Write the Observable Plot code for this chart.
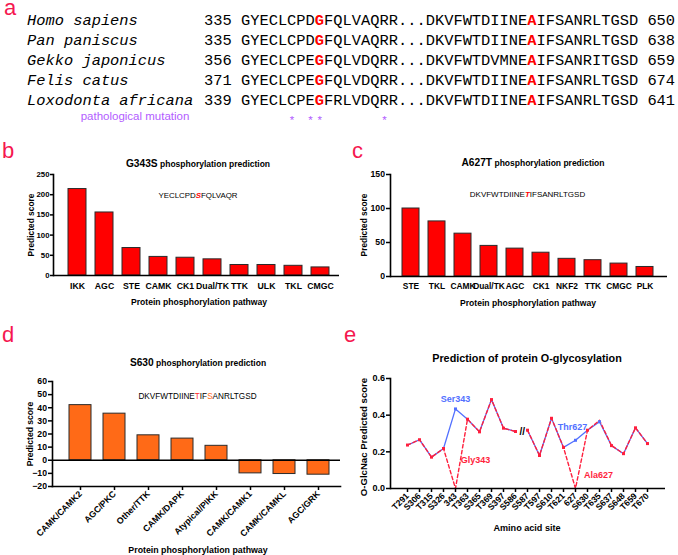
<!DOCTYPE html>
<html><head><meta charset="utf-8">
<script src="https://cdn.jsdelivr.net/npm/d3@7"></script>
<script src="https://cdn.jsdelivr.net/npm/@observablehq/plot@0.6"></script>
<style>
body{margin:0;background:#fff;}
#fig{position:relative;width:678px;height:555px;overflow:hidden;font-family:"Liberation Sans",Arial,sans-serif;}
#fig > div.p{position:absolute;}
#overlay{position:absolute;left:0;top:0;}
</style></head><body><div id="fig"></div>
<script>
// ---------- Panel a: alignment ----------
const species = ["Homo sapiens", "Pan paniscus", "Gekko japonicus", "Felis catus", "Loxodonta africana"];
const startPos = [335, 335, 356, 371, 339];
const seqHead = ["GYECLCPD", "GYECLCPD", "GYECLCPE", "GYECLCPE", "GYECLCPE"];
const res343 = ["G", "G", "G", "G", "G"];
const seqMid = ["FQLVAQRR...DKVFWTDIINE", "FQLVAQRR...DKVFWTDIINE", "FQLVDQRR...DKVFWTDVMNE", "FQLVDQRR...DKVFWTDIINE", "FRLVDQRR...DKVFWTDIINE"];
const res627 = ["A", "A", "A", "A", "A"];
const seqTail = ["IFSANRLTGSD", "IFSANRLTGSD", "IFSANRITGSD", "IFSANRLTGSD", "IFSANRLTGSD"];
const endPos = [650, 638, 659, 674, 641];
const starColumns = [9, 11, 12, 19];

// ---------- Panel b ----------
const bPathways = ["IKK", "AGC", "STE", "CAMK", "CK1", "Dual/TK", "TTK", "ULK", "TKL", "CMGC"];
const bScores = [214, 156, 68, 46, 44, 40, 26, 26, 24, 20];
const bTicks = [0, 50, 100, 150, 200, 250];

// ---------- Panel c ----------
const cPathways = ["STE", "TKL", "CAMK", "Dual/TK", "AGC", "CK1", "NKF2", "TTK", "CMGC", "PLK"];
const cScores = [100, 81, 63, 45, 41, 35, 26, 24, 19, 14];
const cTicks = [0, 50, 100, 150];

// ---------- Panel d ----------
const dPathways = ["CAMK/CAMK2", "AGC/PKC", "Other/TTK", "CAMK/DAPK", "Atypical/PIKK", "CAMK/CAMK1", "CAMK/CAMKL", "AGC/GRK"];
const dScores = [42, 35.5, 19, 16.5, 11, -10, -10.5, -11];
const dTicks = [-20, -10, 0, 10, 20, 30, 40, 50, 60];

// ---------- Panel e ----------
const sites = ["T291", "S306", "T315", "S326", "343", "T363", "S365", "T369", "S397", "S586", "S587", "T597", "S610", "T621", "627", "S630", "T635", "S637", "S648", "T659", "T670"];
const wildScores = [0.237, 0.266, 0.171, 0.218, 0.434, 0.378, 0.309, 0.485, 0.329, 0.311, 0.318, 0.180, 0.383, 0.224, 0.263, 0.318, 0.364, 0.234, 0.190, 0.331, 0.245];
const mutScores  = [0.237, 0.266, 0.171, 0.218, 0.000, 0.378, 0.309, 0.485, 0.329, 0.311, 0.318, 0.180, 0.383, 0.224, 0.000, 0.318, 0.372, 0.234, 0.190, 0.331, 0.245];
const breakAfter = "S586";
const breakY = 0.309;
const eTicks = [0, 0.2, 0.4, 0.6];
const annoSites = ["343", "343", "627", "627"];
const annoValues = [0.489, 0.153, 0.333, 0.071];
const annoLabels = ["Ser343", "Gly343", "Thr627", "Ala627"];

// ---------- styles ----------
const FONT = '"Liberation Sans", Arial, sans-serif';
const LABEL = "#f5174f";
const RED = "#ff0000";
const ORANGE = "#ff6a17";
const BLUE = "#5270ff";
const LRED = "#ff1f3d";
const PURPLE = "#b25cff";
const fig = document.getElementById("fig");

function panel(opts, left, top) {
  const el = Plot.plot({
    ...opts,
    style: {fontFamily: FONT, fontWeight: "bold", fontSize: "8.7px", color: "#000", background: "transparent", overflow: "visible"}
  });
  const d = document.createElement("div");
  d.className = "p";
  d.style.left = left + "px";
  d.style.top = top + "px";
  d.appendChild(el);
  fig.appendChild(d);
}

// Panel b
panel({
  width: 340, height: 170, marginTop: 24, marginBottom: 45, marginLeft: 53, marginRight: 1,
  x: {domain: bPathways, range: [62.5, 334.5], paddingInner: 0.34, paddingOuter: 0.17},
  y: {domain: [0, 250]},
  marks: [
    Plot.barY(bScores, {x: bPathways, y: bScores, fill: RED, stroke: "#2b2b2b", strokeWidth: 1}),
    Plot.ruleY([0], {strokeWidth: 1.6}),
    Plot.frame({anchor: "left", strokeWidth: 1.6}),
    Plot.axisY({ticks: bTicks, tickSize: 3, tickPadding: 1, strokeWidth: 1.5, fontSize: 7.8, label: null}),
    Plot.axisX({tickSize: 0, tickPadding: 7, label: null})
  ]
}, 0, 150);

// Panel c
panel({
  width: 338, height: 170, marginTop: 24, marginBottom: 44, marginLeft: 50, marginRight: 11,
  x: {domain: cPathways, range: [54.7, 320.3], paddingInner: 0.36, paddingOuter: 0.18},
  y: {domain: [0, 150]},
  marks: [
    Plot.barY(cScores, {x: cPathways, y: cScores, fill: RED, stroke: "#2b2b2b", strokeWidth: 1}),
    Plot.ruleY([0], {strokeWidth: 1.6}),
    Plot.frame({anchor: "left", strokeWidth: 1.6}),
    Plot.axisY({ticks: cTicks, tickSize: 4, tickPadding: 1.5, strokeWidth: 1.5, label: null}),
    Plot.axisX({tickSize: 0, tickPadding: 7, fontSize: 8.4, label: null})
  ]
}, 340, 150);

// Panel d
panel({
  width: 340, height: 215, marginTop: 41, marginBottom: 69, marginLeft: 52, marginRight: 0,
  x: {domain: dPathways, range: [60.8, 336.2], paddingInner: 0.36, paddingOuter: 0.18},
  y: {domain: [-20, 60]},
  marks: [
    Plot.barY(dScores, {x: dPathways, y: dScores, fill: ORANGE, stroke: "#2b2b2b", strokeWidth: 1}),
    Plot.ruleY([0], {strokeWidth: 1.6}),
    Plot.frame({anchor: "left", strokeWidth: 1.6}),
    Plot.frame({anchor: "bottom", strokeWidth: 1.6}),
    Plot.axisY({ticks: dTicks, tickSize: 4, tickPadding: 1.5, strokeWidth: 1.5, label: null}),
    Plot.axisX({tickSize: 4, tickPadding: 2, strokeWidth: 1.5, tickRotate: -45, fontSize: 8.8, label: null})
  ]
}, 0, 340);

// Panel e
const breakIdx = sites.indexOf(breakAfter);
const segment = sites.map((s, i) => (i <= breakIdx ? "left" : "right"));
const mutated = sites.map((s, i) => wildScores[i] !== mutScores[i]);
function anno(i, color, dx) {
  return Plot.text([annoLabels[i]], {x: [annoSites[i]], y: [annoValues[i]], text: (d) => d, fill: color, dx, fontWeight: "bold", fontSize: 9});
}
panel({
  width: 338, height: 215, marginTop: 38, marginBottom: 67, marginLeft: 50, marginRight: 13,
  x: {type: "point", domain: sites, range: [58, 315], padding: 0},
  y: {domain: [0, 0.6]},
  marks: [
    Plot.line(wildScores, {x: sites, y: wildScores, z: segment, stroke: BLUE, strokeWidth: 1.3}),
    Plot.line(mutScores, {x: sites, y: mutScores, z: segment, stroke: LRED, strokeWidth: 1.4, strokeDasharray: "3.5,2.5"}),
    Plot.dot(wildScores, {x: sites, y: wildScores, filter: (d, i) => mutated[i], symbol: "square", r: 1.7, fill: BLUE}),
    Plot.dot(mutScores, {x: sites, y: mutScores, filter: (d, i) => !mutated[i], symbol: "square", r: 1.7, fill: LRED}),
    Plot.text(["//"], {x: [breakAfter], y: [breakY], text: (d) => d, dx: 6.8, fontSize: 10, fontWeight: "bold", fill: "#000"}),
    anno(0, BLUE, 0),
    anno(1, LRED, 20),
    anno(2, BLUE, -3),
    anno(3, LRED, 23),
    Plot.ruleY([0], {strokeWidth: 1.6}),
    Plot.frame({anchor: "left", strokeWidth: 1.6}),
    Plot.axisY({ticks: eTicks, tickFormat: ".1f", tickSize: 4, tickPadding: 1.5, strokeWidth: 1.5, fontSize: 9, label: null}),
    Plot.axisX({tickSize: 4, tickPadding: 2, strokeWidth: 1.5, tickRotate: -45, fontSize: 8.7, label: null})
  ]
}, 340, 340);

// ---------- overlay text (titles, labels, alignment) ----------
const esc = (s) => String(s).replace(/&/g, "&amp;").replace(/</g, "&lt;");
let t = "";
// panel letters
[["a", 4, 14.5], ["b", 2, 158.3], ["c", 352, 158.3], ["d", 2, 341.7], ["e", 344, 341.7]].forEach(([l, x, y]) => {
  t += `<text x="${x}" y="${y}" font-size="22" fill="${LABEL}">${l}</text>`;
});
// alignment rows
const MONO = '"Liberation Mono", "DejaVu Sans Mono", monospace';
species.forEach((sp, i) => {
  const y = 25 + i * 20;
  t += `<text x="27" y="${y}" font-family='${MONO}' font-size="15.4" font-style="italic">${esc(sp)}</text>`;
  t += `<text x="204" y="${y}" font-family='${MONO}' font-size="15.4" style="white-space:pre">${startPos[i]} ${seqHead[i]}<tspan fill="${RED}" font-weight="bold">${res343[i]}</tspan>${esc(seqMid[i])}<tspan fill="${RED}" font-weight="bold">${res627[i]}</tspan>${seqTail[i]} ${endPos[i]}</text>`;
});
t += `<text x="135" y="120.3" font-size="11.5" fill="${PURPLE}" text-anchor="middle">pathological mutation</text>`;
starColumns.forEach((c) => {
  t += `<text x="${204 + (c + 0.5) * 9.25}" y="124" font-size="11.5" fill="${PURPLE}" text-anchor="middle">*</text>`;
});
// titles
const title = (x, y, big, rest) =>
  `<text x="${x}" y="${y}" text-anchor="middle" font-weight="bold"><tspan font-size="10.2">${big}</tspan><tspan font-size="8.5"> ${rest}</tspan></text>`;
t += title(198, 166.7, "G343S", "phosphorylation prediction");
t += title(533, 166, "A627T", "phosphorylation prediction");
t += title(198, 365.7, "S630", "phosphorylation prediction");
t += `<text x="527" y="362.3" text-anchor="middle" font-weight="bold" font-size="10.8">Prediction of protein O-glycosylation</text>`;
// sequences
t += `<text x="198" y="197.7" text-anchor="middle" font-size="7.9">YECLCPD<tspan fill="${RED}" font-weight="bold" font-style="italic">S</tspan>FQLVAQR</text>`;
t += `<text x="527.5" y="196.7" text-anchor="middle" font-size="8">DKVFWTDIINE<tspan fill="${RED}" font-weight="bold" font-style="italic">T</tspan>IFSANRLTGSD</text>`;
t += `<text x="197.5" y="398.5" text-anchor="middle" font-size="8.2">DKVFWTDIINE<tspan fill="#ff2d2d">T</tspan>IF<tspan fill="${ORANGE}">S</tspan>ANRLTGSD</text>`;
// axis titles
const xt = (x, y, s, fs) => `<text x="${x}" y="${y}" text-anchor="middle" font-weight="bold" font-size="${fs}">${s}</text>`;
t += xt(199, 304.7, "Protein phosphorylation pathway", 8.6);
t += xt(528, 305.5, "Protein phosphorylation pathway", 8.6);
t += xt(198, 552.7, "Protein phosphorylation pathway", 8.8);
t += xt(527, 531, "Amino acid site", 9.1);
const yt = (x, y, s, fs) => `<text transform="translate(${x},${y}) rotate(-90)" text-anchor="middle" font-weight="bold" font-size="${fs}">${s}</text>`;
t += yt(34, 225, "Predicted score", 8.4);
t += yt(366.7, 225, "Predicted score", 8.4);
t += yt(32.5, 434, "Predicted score", 8.6);
t += yt(367.3, 437, "O-GlcNac Predicted score", 9.6);

const ov = document.createElement("div");
ov.id = "overlay";
ov.innerHTML = `<svg width="678" height="555" xmlns="http://www.w3.org/2000/svg" font-family='${FONT}'>${t}</svg>`;
fig.appendChild(ov);
</script></body></html>
